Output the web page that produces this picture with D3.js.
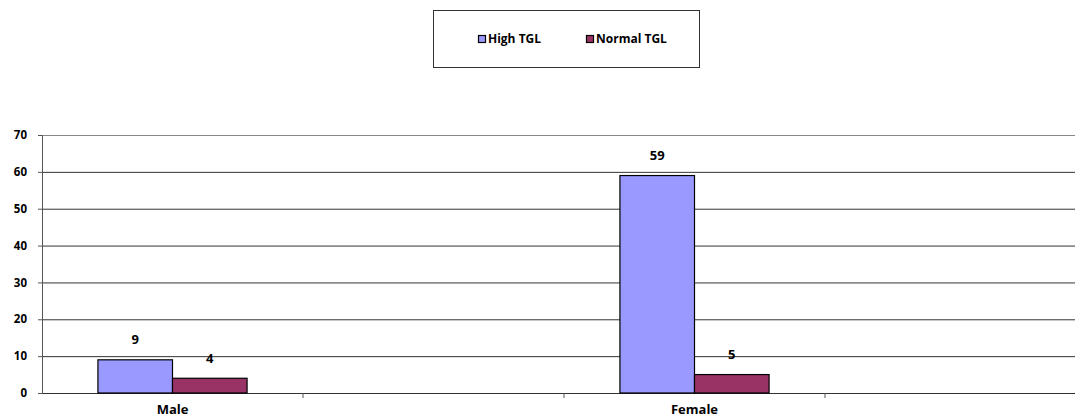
<!DOCTYPE html>
<html>
<head>
<meta charset="utf-8">
<script src="https://cdn.jsdelivr.net/npm/d3@7"></script>
<style>
  html, body { margin: 0; padding: 0; background: #fff; overflow: hidden; }
  svg { display: block; font-family: "Open Sans", Lato, "Liberation Sans", sans-serif; font-weight: bold; }
</style>
</head>
<body>
<svg id="chart" width="1075" height="419"></svg>
<script>
const categories = ["Male", "", "Female", " "];
const seriesNames = ["High TGL", "Normal TGL"];
const highTGL = [9, null, 59, null];
const normalTGL = [4, null, 5, null];
const yTicks = [0, 10, 20, 30, 40, 50, 60, 70];
const colors = ["#9999ff", "#993366"];
const FONT = "'Open Sans', Lato, 'Liberation Sans', sans-serif";

const svg = d3.select("#chart");
const x0 = 42, x1 = 1086, yTop = 135, yBot = 393;

const x = d3.scaleBand().domain(categories).range([x0, x1]).paddingInner(0).paddingOuter(0);
const y = d3.scaleLinear().domain([0, 70]).range([yBot, yTop]);
const barW = x.bandwidth() / 3.5;
const xs = d3.scaleBand().domain(seriesNames).range([0, 2 * barW]);

// gridlines
svg.append("g").selectAll("line").data(yTicks.filter(d => d > 0)).join("line")
  .attr("x1", x0).attr("x2", x1)
  .attr("y1", d => y(d) + 0.5).attr("y2", d => y(d) + 0.5)
  .attr("stroke", d => d === 70 ? "#888" : "#333").attr("stroke-width", 1);

// y axis
const yAxis = svg.append("g").attr("transform", `translate(${x0},0)`)
  .call(d3.axisLeft(y).tickValues(yTicks).tickSize(4).tickPadding(11));
yAxis.select(".domain").attr("stroke", "#555");
yAxis.selectAll(".tick line").attr("stroke", "#555");
yAxis.selectAll("text").attr("font-size", "11.5px").attr("font-weight", "bold").attr("fill", "#000")
  .attr("font-family", FONT);

// x axis
const xAxis = svg.append("g").attr("transform", `translate(0,${yBot})`)
  .call(d3.axisBottom(x).tickSize(0).tickPadding(12));
xAxis.select(".domain").attr("stroke", "#333");
xAxis.selectAll("text").attr("font-size", "13px").attr("font-weight", "bold").attr("fill", "#000")
  .attr("font-family", FONT);
// category boundary tick marks
svg.append("g").selectAll("line").data(categories.slice(1)).join("line")
  .attr("x1", d => x(d)).attr("x2", d => x(d))
  .attr("y1", yBot).attr("y2", yBot + 5)
  .attr("stroke", "#555");

// bars
const series = [highTGL, normalTGL];
series.forEach((vals, si) => {
  const data = categories.map((c, i) => ({ c, v: vals[i] })).filter(d => d.v != null);
  const g = svg.append("g");
  g.selectAll("rect").data(data).join("rect")
    .attr("x", d => x(d.c) + (x.bandwidth() - 2 * barW) / 2 + xs(seriesNames[si]))
    .attr("y", d => y(d.v))
    .attr("width", barW)
    .attr("height", d => yBot - y(d.v))
    .attr("fill", colors[si])
    .attr("stroke", "#000").attr("stroke-width", 1.2);
  g.selectAll("text").data(data).join("text")
    .attr("x", d => x(d.c) + (x.bandwidth() - 2 * barW) / 2 + xs(seriesNames[si]) + barW / 2)
    .attr("y", d => y(d.v) - 20)
    .attr("dy", "0.35em")
    .attr("text-anchor", "middle")
    .attr("font-size", "13px")
    .text(d => d.v);
});

// legend
const lg = svg.append("g");
lg.append("rect").attr("x", 433.5).attr("y", 10.5).attr("width", 266).attr("height", 57)
  .attr("fill", "#fff").attr("stroke", "#333").attr("stroke-width", 1);
const legendX = [478, 586];
seriesNames.forEach((n, i) => {
  lg.append("rect").attr("x", legendX[i] + 0.5).attr("y", 35.5).attr("width", 7).attr("height", 7)
    .attr("fill", colors[i]).attr("stroke", "#000").attr("stroke-width", 1.2);
  lg.append("text").attr("x", legendX[i] + 10).attr("y", 39).attr("dy", "0.35em")
    .attr("font-size", "12px").text(n);
});
</script>
</body>
</html>
